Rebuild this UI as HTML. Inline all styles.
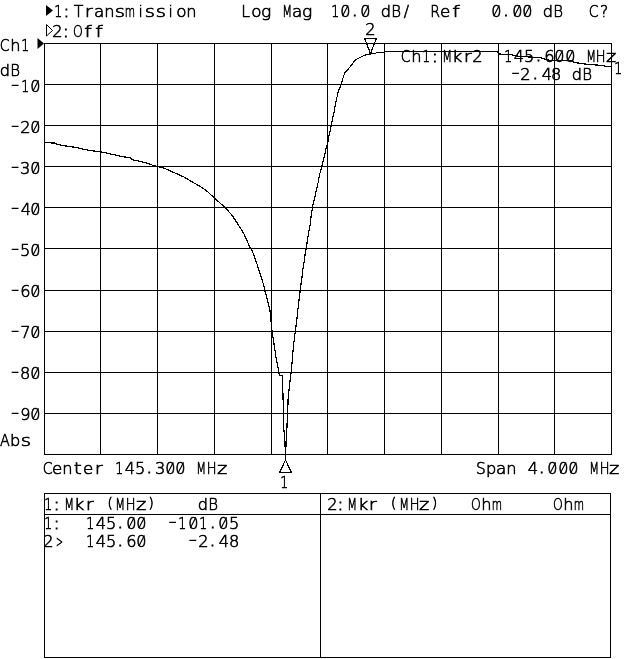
<!DOCTYPE html>
<html><head><meta charset="utf-8"><title>Transmission</title>
<style>
html,body{margin:0;padding:0;background:#fff;width:640px;height:659px;overflow:hidden}
svg{display:block;will-change:transform}
text{white-space:pre}
</style></head>
<body>
<svg width="640" height="659" viewBox="0 0 640 659">
<rect width="640" height="659" fill="#fff"/>
<g fill="#000" shape-rendering="crispEdges">
<rect x="44" y="43" width="1" height="412"/>
<rect x="100" y="43" width="1" height="412"/>
<rect x="157" y="43" width="1" height="412"/>
<rect x="214" y="43" width="1" height="412"/>
<rect x="271" y="43" width="1" height="412"/>
<rect x="327" y="43" width="1" height="412"/>
<rect x="384" y="43" width="1" height="412"/>
<rect x="441" y="43" width="1" height="412"/>
<rect x="498" y="43" width="1" height="412"/>
<rect x="554" y="43" width="1" height="412"/>
<rect x="611" y="43" width="1" height="412"/>
<rect x="44" y="43" width="568" height="1"/>
<rect x="44" y="84" width="568" height="1"/>
<rect x="44" y="125" width="568" height="1"/>
<rect x="44" y="166" width="568" height="1"/>
<rect x="44" y="207" width="568" height="1"/>
<rect x="44" y="248" width="568" height="1"/>
<rect x="44" y="290" width="568" height="1"/>
<rect x="44" y="331" width="568" height="1"/>
<rect x="44" y="372" width="568" height="1"/>
<rect x="44" y="413" width="568" height="1"/>
<rect x="44" y="454" width="568" height="1"/>
<rect x="44" y="493" width="567" height="1"/>
<rect x="44" y="514" width="567" height="1"/>
<rect x="44" y="657" width="567" height="1"/>
<rect x="44" y="493" width="1" height="165"/>
<rect x="610" y="493" width="1" height="165"/>
<rect x="320" y="493" width="1" height="165"/>
</g>
<polyline points="44.00,142.60 55.00,143.10 58.00,144.60 65.00,145.90 75.00,147.30 85.00,149.60 92.00,150.80 100.00,151.60 106.00,153.00 115.00,155.00 120.00,156.20 130.00,157.80 133.00,159.80 145.00,162.50 152.00,165.00 157.00,166.30 165.00,168.50 175.00,173.00 185.00,177.50 192.00,181.90 200.00,186.20 206.00,190.30 214.00,197.60 220.00,203.00 226.00,208.50 232.00,215.20 238.00,224.30 244.00,234.00 250.00,247.40 251.10,248.30 254.10,255.80 257.10,264.30 260.20,274.00 263.20,283.70 265.00,291.00 267.50,300.70 269.90,310.40 271.50,325.80 272.10,331.80 274.00,344.00 275.80,356.00 278.20,368.30 279.20,375.00 282.50,375.60 282.90,392.00 283.40,410.00 283.90,430.00 284.80,438.00 285.20,450.00 285.50,458.50 285.80,450.00 286.20,440.00 287.00,426.00 287.70,410.00 288.30,395.00 289.40,387.30 290.10,380.00 291.00,373.00 292.20,361.00 293.40,346.40 294.90,334.50 295.30,331.40 295.90,326.60 297.00,318.10 297.90,309.60 298.90,301.10 299.55,295.60 300.20,290.20 300.90,284.80 302.00,276.90 302.90,269.00 304.10,262.30 305.00,255.00 306.20,248.40 307.00,242.90 307.90,237.50 309.00,230.20 310.20,224.10 311.10,216.20 311.80,211.40 312.75,206.00 313.80,201.10 314.90,196.90 315.80,192.00 317.00,187.10 318.20,182.30 319.30,175.60 319.70,174.20 320.80,170.20 321.80,166.00 322.75,162.30 323.80,158.10 324.90,153.80 325.90,149.00 327.00,145.30 328.20,140.50 328.80,135.60 329.30,135.20 330.20,130.40 331.10,125.50 332.00,121.90 332.90,117.00 334.10,112.10 335.00,106.70 336.25,100.60 336.60,98.75 338.10,92.50 339.40,88.75 341.00,84.70 342.20,80.60 343.75,75.60 345.00,72.50 347.50,70.00 350.00,66.90 352.50,63.75 355.00,60.30 356.25,59.40 360.00,57.50 363.75,55.60 367.50,54.40 371.25,53.75 375.00,53.50 376.90,52.50 383.75,52.25 386.25,51.50 388.00,51.30 497.50,51.30 499.00,54.00 510.00,54.50 515.00,55.50 520.00,56.50 530.00,57.00 540.00,57.50 547.00,60.00 556.00,60.50 572.00,60.80 574.00,62.50 585.00,64.00 600.00,65.30 606.00,66.30 611.00,66.50" fill="none" stroke="#000" stroke-width="1.2" stroke-linejoin="round" shape-rendering="crispEdges"/>
<polygon points="46,5 53,10.5 46,16" fill="#000"/>
<polygon points="46.5,24.5 52.5,30.5 46.5,36" fill="none" stroke="#000" stroke-width="1"/>
<polygon points="37.5,38 44,43.5 37.5,49" fill="#000"/>
<polygon points="285.5,460 279.5,472.5 291.5,472.5" fill="none" stroke="#000" stroke-width="1.2" shape-rendering="crispEdges"/>
<polygon points="364.5,38.2 376.5,38.2 370.5,53.5" fill="none" stroke="#000" stroke-width="1.2" shape-rendering="crispEdges"/>
<g font-family='"DejaVu Sans", "Liberation Sans", sans-serif' font-weight="200" fill="#000" stroke="#000" stroke-width="0.6">
<text y="17" font-size="15.6"><tspan x="54.34" y="17" textLength="8.0" lengthAdjust="spacingAndGlyphs">1</tspan><tspan x="63.64" y="17" stroke-width="1.1">:</tspan><tspan x="73.64" y="17">T</tspan><tspan x="84.71" y="17" textLength="8.0" lengthAdjust="spacingAndGlyphs">r</tspan><tspan x="93.95" y="17" textLength="10.3" lengthAdjust="spacingAndGlyphs">a</tspan><tspan x="104.17" y="17" textLength="10.3" lengthAdjust="spacingAndGlyphs">n</tspan><tspan x="114.89" y="17" textLength="10.3" lengthAdjust="spacingAndGlyphs">s</tspan><tspan x="124.77" y="17" textLength="10.3" lengthAdjust="spacingAndGlyphs">m</tspan><tspan x="138.45" y="17">i</tspan><tspan x="144.89" y="17" textLength="10.3" lengthAdjust="spacingAndGlyphs">s</tspan><tspan x="155.89" y="17" textLength="10.3" lengthAdjust="spacingAndGlyphs">s</tspan><tspan x="168.45" y="17">i</tspan><tspan x="176.31" y="17" textLength="10.3" lengthAdjust="spacingAndGlyphs">o</tspan><tspan x="186.17" y="17" textLength="10.3" lengthAdjust="spacingAndGlyphs">n</tspan></text>
<text y="17" font-size="15.6"><tspan x="241.32" y="17">L</tspan><tspan x="251.31" y="17" textLength="10.3" lengthAdjust="spacingAndGlyphs">o</tspan><tspan x="261.12" y="17" textLength="10.3" lengthAdjust="spacingAndGlyphs">g</tspan> <tspan x="282.20" y="17" textLength="9.8" lengthAdjust="spacingAndGlyphs">M</tspan><tspan x="291.95" y="17" textLength="10.3" lengthAdjust="spacingAndGlyphs">a</tspan><tspan x="302.12" y="17" textLength="10.3" lengthAdjust="spacingAndGlyphs">g</tspan></text>
<text y="17" font-size="15.6"><tspan x="331.34" y="17" textLength="8.0" lengthAdjust="spacingAndGlyphs">1</tspan><tspan x="340.35" y="17" textLength="10.3" lengthAdjust="spacingAndGlyphs">0</tspan><tspan x="352.26" y="16" stroke-width="1.1">.</tspan><tspan x="360.35" y="17" textLength="10.3" lengthAdjust="spacingAndGlyphs">0</tspan> <tspan x="380.73" y="17" textLength="10.3" lengthAdjust="spacingAndGlyphs">d</tspan><tspan x="391.23" y="17" textLength="9.8" lengthAdjust="spacingAndGlyphs">B</tspan><tspan x="403.80" y="17">/</tspan></text>
<text y="17" font-size="15.6"><tspan x="430.24" y="17" textLength="9.8" lengthAdjust="spacingAndGlyphs">R</tspan><tspan x="440.08" y="17" textLength="10.3" lengthAdjust="spacingAndGlyphs">e</tspan><tspan x="452.22" y="17" textLength="7.5" lengthAdjust="spacingAndGlyphs">f</tspan></text>
<text y="17" font-size="15.6"><tspan x="491.35" y="17" textLength="10.3" lengthAdjust="spacingAndGlyphs">0</tspan><tspan x="503.49" y="16" stroke-width="1.1">.</tspan><tspan x="512.35" y="17" textLength="10.3" lengthAdjust="spacingAndGlyphs">0</tspan><tspan x="522.35" y="17" textLength="10.3" lengthAdjust="spacingAndGlyphs">0</tspan> <tspan x="542.73" y="17" textLength="10.3" lengthAdjust="spacingAndGlyphs">d</tspan><tspan x="553.23" y="17" textLength="9.8" lengthAdjust="spacingAndGlyphs">B</tspan></text>
<text y="17" font-size="15.6"><tspan x="588.71" y="17" textLength="9.8" lengthAdjust="spacingAndGlyphs">C</tspan><tspan x="600.07" y="17">?</tspan></text>
<text y="37" font-size="15.6"><tspan x="52.26" y="37" textLength="10.3" lengthAdjust="spacingAndGlyphs">2</tspan><tspan x="63.14" y="37" stroke-width="1.1">:</tspan><tspan x="72.99" y="37" textLength="9.8" lengthAdjust="spacingAndGlyphs">O</tspan><tspan x="84.22" y="37" textLength="7.5" lengthAdjust="spacingAndGlyphs">f</tspan><tspan x="95.22" y="37" textLength="7.5" lengthAdjust="spacingAndGlyphs">f</tspan></text>
<text y="51" font-size="15.6"><tspan x="-0.29" y="51" textLength="9.8" lengthAdjust="spacingAndGlyphs">C</tspan><tspan x="10.15" y="51" textLength="10.3" lengthAdjust="spacingAndGlyphs">h</tspan><tspan x="21.34" y="51" textLength="8.0" lengthAdjust="spacingAndGlyphs">1</tspan></text>
<text y="76" font-size="15.6"><tspan x="-0.27" y="76" textLength="10.3" lengthAdjust="spacingAndGlyphs">d</tspan><tspan x="10.23" y="76" textLength="9.8" lengthAdjust="spacingAndGlyphs">B</tspan></text>
<text y="92" font-size="15.6"><tspan x="11.10" y="90" textLength="8.2" lengthAdjust="spacingAndGlyphs">-</tspan><tspan x="21.34" y="92" textLength="8.0" lengthAdjust="spacingAndGlyphs">1</tspan><tspan x="30.35" y="92" textLength="10.3" lengthAdjust="spacingAndGlyphs">0</tspan></text>
<text y="133" font-size="15.6"><tspan x="11.10" y="131" textLength="8.2" lengthAdjust="spacingAndGlyphs">-</tspan><tspan x="20.25" y="133" textLength="10.3" lengthAdjust="spacingAndGlyphs">2</tspan><tspan x="30.35" y="133" textLength="10.3" lengthAdjust="spacingAndGlyphs">0</tspan></text>
<text y="174" font-size="15.6"><tspan x="11.10" y="172" textLength="8.2" lengthAdjust="spacingAndGlyphs">-</tspan><tspan x="19.95" y="174" textLength="10.3" lengthAdjust="spacingAndGlyphs">3</tspan><tspan x="30.35" y="174" textLength="10.3" lengthAdjust="spacingAndGlyphs">0</tspan></text>
<text y="215" font-size="15.6"><tspan x="11.10" y="213" textLength="8.2" lengthAdjust="spacingAndGlyphs">-</tspan><tspan x="20.66" y="215" textLength="10.3" lengthAdjust="spacingAndGlyphs">4</tspan><tspan x="30.35" y="215" textLength="10.3" lengthAdjust="spacingAndGlyphs">0</tspan></text>
<text y="256" font-size="15.6"><tspan x="11.10" y="254" textLength="8.2" lengthAdjust="spacingAndGlyphs">-</tspan><tspan x="19.91" y="256" textLength="10.3" lengthAdjust="spacingAndGlyphs">5</tspan><tspan x="30.35" y="256" textLength="10.3" lengthAdjust="spacingAndGlyphs">0</tspan></text>
<text y="297" font-size="15.6"><tspan x="11.10" y="295" textLength="8.2" lengthAdjust="spacingAndGlyphs">-</tspan><tspan x="20.17" y="297" textLength="10.3" lengthAdjust="spacingAndGlyphs">6</tspan><tspan x="30.35" y="297" textLength="10.3" lengthAdjust="spacingAndGlyphs">0</tspan></text>
<text y="338" font-size="15.6"><tspan x="11.10" y="336" textLength="8.2" lengthAdjust="spacingAndGlyphs">-</tspan><tspan x="20.32" y="338" textLength="10.3" lengthAdjust="spacingAndGlyphs">7</tspan><tspan x="30.35" y="338" textLength="10.3" lengthAdjust="spacingAndGlyphs">0</tspan></text>
<text y="379" font-size="15.6"><tspan x="11.10" y="377" textLength="8.2" lengthAdjust="spacingAndGlyphs">-</tspan><tspan x="19.98" y="379" textLength="10.3" lengthAdjust="spacingAndGlyphs">8</tspan><tspan x="30.35" y="379" textLength="10.3" lengthAdjust="spacingAndGlyphs">0</tspan></text>
<text y="420" font-size="15.6"><tspan x="11.10" y="418" textLength="8.2" lengthAdjust="spacingAndGlyphs">-</tspan><tspan x="20.32" y="420" textLength="10.3" lengthAdjust="spacingAndGlyphs">9</tspan><tspan x="30.35" y="420" textLength="10.3" lengthAdjust="spacingAndGlyphs">0</tspan></text>
<text y="446" font-size="15.6"><tspan x="-0.11" y="446" textLength="9.8" lengthAdjust="spacingAndGlyphs">A</tspan><tspan x="10.14" y="446" textLength="10.3" lengthAdjust="spacingAndGlyphs">b</tspan><tspan x="20.89" y="446" textLength="10.3" lengthAdjust="spacingAndGlyphs">s</tspan></text>
<text y="474" font-size="15.6"><tspan x="42.71" y="474" textLength="9.8" lengthAdjust="spacingAndGlyphs">C</tspan><tspan x="52.08" y="474" textLength="10.3" lengthAdjust="spacingAndGlyphs">e</tspan><tspan x="62.17" y="474" textLength="10.3" lengthAdjust="spacingAndGlyphs">n</tspan><tspan x="73.70" y="474" textLength="8.0" lengthAdjust="spacingAndGlyphs">t</tspan><tspan x="83.08" y="474" textLength="10.3" lengthAdjust="spacingAndGlyphs">e</tspan><tspan x="94.71" y="474" textLength="8.0" lengthAdjust="spacingAndGlyphs">r</tspan> <tspan x="115.34" y="474" textLength="8.0" lengthAdjust="spacingAndGlyphs">1</tspan><tspan x="124.66" y="474" textLength="10.3" lengthAdjust="spacingAndGlyphs">4</tspan><tspan x="134.91" y="474" textLength="10.3" lengthAdjust="spacingAndGlyphs">5</tspan><tspan x="146.67" y="473" stroke-width="1.1">.</tspan><tspan x="154.95" y="474" textLength="10.3" lengthAdjust="spacingAndGlyphs">3</tspan><tspan x="165.35" y="474" textLength="10.3" lengthAdjust="spacingAndGlyphs">0</tspan><tspan x="175.35" y="474" textLength="10.3" lengthAdjust="spacingAndGlyphs">0</tspan> <tspan x="196.20" y="474" textLength="9.8" lengthAdjust="spacingAndGlyphs">M</tspan><tspan x="206.76" y="474" textLength="9.8" lengthAdjust="spacingAndGlyphs">H</tspan><tspan x="216.98" y="474" textLength="10.3" lengthAdjust="spacingAndGlyphs">z</tspan></text>
<text y="474" font-size="15.6"><tspan x="476.01" y="474" textLength="9.8" lengthAdjust="spacingAndGlyphs">S</tspan><tspan x="486.14" y="474" textLength="10.3" lengthAdjust="spacingAndGlyphs">p</tspan><tspan x="495.95" y="474" textLength="10.3" lengthAdjust="spacingAndGlyphs">a</tspan><tspan x="506.17" y="474" textLength="10.3" lengthAdjust="spacingAndGlyphs">n</tspan> <tspan x="527.66" y="474" textLength="10.3" lengthAdjust="spacingAndGlyphs">4</tspan><tspan x="539.34" y="473" stroke-width="1.1">.</tspan><tspan x="547.35" y="474" textLength="10.3" lengthAdjust="spacingAndGlyphs">0</tspan><tspan x="558.35" y="474" textLength="10.3" lengthAdjust="spacingAndGlyphs">0</tspan><tspan x="568.35" y="474" textLength="10.3" lengthAdjust="spacingAndGlyphs">0</tspan> <tspan x="589.20" y="474" textLength="9.8" lengthAdjust="spacingAndGlyphs">M</tspan><tspan x="599.76" y="474" textLength="9.8" lengthAdjust="spacingAndGlyphs">H</tspan><tspan x="608.98" y="474" textLength="10.3" lengthAdjust="spacingAndGlyphs">z</tspan></text>
<text y="488" font-size="15.6"><tspan x="280.34" y="488" textLength="8.0" lengthAdjust="spacingAndGlyphs">1</tspan></text>
<text y="35" font-size="15.6"><tspan x="365.25" y="35" textLength="10.3" lengthAdjust="spacingAndGlyphs">2</tspan></text>
<text y="62" font-size="15.6"><tspan x="400.71" y="62" textLength="9.8" lengthAdjust="spacingAndGlyphs">C</tspan><tspan x="411.15" y="62" textLength="10.3" lengthAdjust="spacingAndGlyphs">h</tspan><tspan x="422.34" y="62" textLength="8.0" lengthAdjust="spacingAndGlyphs">1</tspan><tspan x="432.18" y="62" stroke-width="1.1">:</tspan><tspan x="442.20" y="62" textLength="9.8" lengthAdjust="spacingAndGlyphs">M</tspan><tspan x="452.06" y="62" textLength="10.3" lengthAdjust="spacingAndGlyphs">k</tspan><tspan x="463.71" y="62" textLength="8.0" lengthAdjust="spacingAndGlyphs">r</tspan><tspan x="472.25" y="62" textLength="10.3" lengthAdjust="spacingAndGlyphs">2</tspan></text>
<text y="62" font-size="15.6"><tspan x="504.34" y="62" textLength="8.0" lengthAdjust="spacingAndGlyphs">1</tspan><tspan x="513.66" y="62" textLength="10.3" lengthAdjust="spacingAndGlyphs">4</tspan><tspan x="523.91" y="62" textLength="10.3" lengthAdjust="spacingAndGlyphs">5</tspan><tspan x="536.03" y="61" stroke-width="1.1">.</tspan><tspan x="544.17" y="62" textLength="10.3" lengthAdjust="spacingAndGlyphs">6</tspan><tspan x="554.35" y="62" textLength="10.3" lengthAdjust="spacingAndGlyphs">0</tspan><tspan x="565.35" y="62" textLength="10.3" lengthAdjust="spacingAndGlyphs">0</tspan> <tspan x="586.20" y="62" textLength="9.8" lengthAdjust="spacingAndGlyphs">M</tspan><tspan x="595.76" y="62" textLength="9.8" lengthAdjust="spacingAndGlyphs">H</tspan><tspan x="605.98" y="62" textLength="10.3" lengthAdjust="spacingAndGlyphs">z</tspan></text>
<text y="80" font-size="15.6"><tspan x="511.40" y="78" textLength="8.2" lengthAdjust="spacingAndGlyphs">-</tspan><tspan x="520.25" y="80" textLength="10.3" lengthAdjust="spacingAndGlyphs">2</tspan><tspan x="532.76" y="79" stroke-width="1.1">.</tspan><tspan x="541.66" y="80" textLength="10.3" lengthAdjust="spacingAndGlyphs">4</tspan><tspan x="550.98" y="80" textLength="10.3" lengthAdjust="spacingAndGlyphs">8</tspan> <tspan x="571.73" y="80" textLength="10.3" lengthAdjust="spacingAndGlyphs">d</tspan><tspan x="582.23" y="80" textLength="9.8" lengthAdjust="spacingAndGlyphs">B</tspan></text>
<text y="74" font-size="15.6"><tspan x="614.34" y="74" textLength="8.0" lengthAdjust="spacingAndGlyphs">1</tspan></text>
<text y="510" font-size="15.6"><tspan x="44.34" y="510" textLength="8.0" lengthAdjust="spacingAndGlyphs">1</tspan><tspan x="54.04" y="510" stroke-width="1.1">:</tspan><tspan x="64.20" y="510" textLength="9.8" lengthAdjust="spacingAndGlyphs">M</tspan><tspan x="74.06" y="510" textLength="10.3" lengthAdjust="spacingAndGlyphs">k</tspan><tspan x="85.71" y="510" textLength="8.0" lengthAdjust="spacingAndGlyphs">r</tspan> <tspan x="107.40" y="508.2" font-size="13.42">(</tspan><tspan x="115.20" y="510" textLength="9.8" lengthAdjust="spacingAndGlyphs">M</tspan><tspan x="125.76" y="510" textLength="9.8" lengthAdjust="spacingAndGlyphs">H</tspan><tspan x="135.98" y="510" textLength="10.3" lengthAdjust="spacingAndGlyphs">z</tspan><tspan x="148.48" y="508.2" font-size="13.42">)</tspan></text>
<text y="510" font-size="15.6"><tspan x="197.73" y="510" textLength="10.3" lengthAdjust="spacingAndGlyphs">d</tspan><tspan x="208.23" y="510" textLength="9.8" lengthAdjust="spacingAndGlyphs">B</tspan></text>
<text y="510" font-size="15.6"><tspan x="327.25" y="510" textLength="10.3" lengthAdjust="spacingAndGlyphs">2</tspan><tspan x="337.64" y="510" stroke-width="1.1">:</tspan><tspan x="347.20" y="510" textLength="9.8" lengthAdjust="spacingAndGlyphs">M</tspan><tspan x="358.06" y="510" textLength="10.3" lengthAdjust="spacingAndGlyphs">k</tspan><tspan x="368.71" y="510" textLength="8.0" lengthAdjust="spacingAndGlyphs">r</tspan> <tspan x="391.00" y="508.2" font-size="13.42">(</tspan><tspan x="399.20" y="510" textLength="9.8" lengthAdjust="spacingAndGlyphs">M</tspan><tspan x="409.76" y="510" textLength="9.8" lengthAdjust="spacingAndGlyphs">H</tspan><tspan x="418.98" y="510" textLength="10.3" lengthAdjust="spacingAndGlyphs">z</tspan><tspan x="432.08" y="508.2" font-size="13.42">)</tspan></text>
<text y="510" font-size="15.6"><tspan x="470.99" y="510" textLength="9.8" lengthAdjust="spacingAndGlyphs">O</tspan><tspan x="481.15" y="510" textLength="10.3" lengthAdjust="spacingAndGlyphs">h</tspan><tspan x="491.77" y="510" textLength="10.3" lengthAdjust="spacingAndGlyphs">m</tspan></text>
<text y="510" font-size="15.6"><tspan x="552.99" y="510" textLength="9.8" lengthAdjust="spacingAndGlyphs">O</tspan><tspan x="563.15" y="510" textLength="10.3" lengthAdjust="spacingAndGlyphs">h</tspan><tspan x="573.77" y="510" textLength="10.3" lengthAdjust="spacingAndGlyphs">m</tspan></text>
<text y="529" font-size="15.6"><tspan x="44.34" y="529" textLength="8.0" lengthAdjust="spacingAndGlyphs">1</tspan><tspan x="54.04" y="529" stroke-width="1.1">:</tspan></text>
<text y="529" font-size="15.6"><tspan x="86.34" y="529" textLength="8.0" lengthAdjust="spacingAndGlyphs">1</tspan><tspan x="95.66" y="529" textLength="10.3" lengthAdjust="spacingAndGlyphs">4</tspan><tspan x="105.91" y="529" textLength="10.3" lengthAdjust="spacingAndGlyphs">5</tspan><tspan x="117.83" y="528" stroke-width="1.1">.</tspan><tspan x="126.35" y="529" textLength="10.3" lengthAdjust="spacingAndGlyphs">0</tspan><tspan x="136.35" y="529" textLength="10.3" lengthAdjust="spacingAndGlyphs">0</tspan></text>
<text y="529" font-size="15.6"><tspan x="168.40" y="527" textLength="8.2" lengthAdjust="spacingAndGlyphs">-</tspan><tspan x="178.34" y="529" textLength="8.0" lengthAdjust="spacingAndGlyphs">1</tspan><tspan x="188.35" y="529" textLength="10.3" lengthAdjust="spacingAndGlyphs">0</tspan><tspan x="199.34" y="529" textLength="8.0" lengthAdjust="spacingAndGlyphs">1</tspan><tspan x="210.30" y="528" stroke-width="1.1">.</tspan><tspan x="218.35" y="529" textLength="10.3" lengthAdjust="spacingAndGlyphs">0</tspan><tspan x="228.91" y="529" textLength="10.3" lengthAdjust="spacingAndGlyphs">5</tspan></text>
<text y="547" font-size="15.6"><tspan x="43.26" y="547" textLength="10.3" lengthAdjust="spacingAndGlyphs">2</tspan><tspan x="56.04" y="547" textLength="7.0" lengthAdjust="spacingAndGlyphs">&gt;</tspan></text>
<text y="547" font-size="15.6"><tspan x="86.34" y="547" textLength="8.0" lengthAdjust="spacingAndGlyphs">1</tspan><tspan x="95.66" y="547" textLength="10.3" lengthAdjust="spacingAndGlyphs">4</tspan><tspan x="105.91" y="547" textLength="10.3" lengthAdjust="spacingAndGlyphs">5</tspan><tspan x="117.83" y="546" stroke-width="1.1">.</tspan><tspan x="126.17" y="547" textLength="10.3" lengthAdjust="spacingAndGlyphs">6</tspan><tspan x="136.35" y="547" textLength="10.3" lengthAdjust="spacingAndGlyphs">0</tspan></text>
<text y="547" font-size="15.6"><tspan x="188.70" y="545" textLength="8.2" lengthAdjust="spacingAndGlyphs">-</tspan><tspan x="198.25" y="547" textLength="10.3" lengthAdjust="spacingAndGlyphs">2</tspan><tspan x="210.06" y="546" stroke-width="1.1">.</tspan><tspan x="218.66" y="547" textLength="10.3" lengthAdjust="spacingAndGlyphs">4</tspan><tspan x="228.98" y="547" textLength="10.3" lengthAdjust="spacingAndGlyphs">8</tspan></text>
</g>
<g fill="none" stroke="#000" stroke-width="1.15" stroke-linecap="round"><line x1="342.67" y1="15.80" x2="347.87" y2="5.80"/><line x1="363.21" y1="15.80" x2="368.41" y2="5.80"/><line x1="493.90" y1="15.80" x2="499.10" y2="5.80"/><line x1="514.44" y1="15.80" x2="519.64" y2="5.80"/><line x1="524.71" y1="15.80" x2="529.91" y2="5.80"/><line x1="33.14" y1="90.80" x2="38.34" y2="80.80"/><line x1="33.14" y1="131.80" x2="38.34" y2="121.80"/><line x1="33.14" y1="172.80" x2="38.34" y2="162.80"/><line x1="33.14" y1="213.80" x2="38.34" y2="203.80"/><line x1="33.14" y1="254.80" x2="38.34" y2="244.80"/><line x1="33.14" y1="295.80" x2="38.34" y2="285.80"/><line x1="33.14" y1="336.80" x2="38.34" y2="326.80"/><line x1="33.14" y1="377.80" x2="38.34" y2="367.80"/><line x1="33.14" y1="418.80" x2="38.34" y2="408.80"/><line x1="167.89" y1="472.80" x2="173.09" y2="462.80"/><line x1="178.16" y1="472.80" x2="183.36" y2="462.80"/><line x1="550.29" y1="472.80" x2="555.49" y2="462.80"/><line x1="560.56" y1="472.80" x2="565.76" y2="462.80"/><line x1="570.83" y1="472.80" x2="576.03" y2="462.80"/><line x1="557.25" y1="60.80" x2="562.45" y2="50.80"/><line x1="567.52" y1="60.80" x2="572.72" y2="50.80"/><line x1="128.78" y1="527.80" x2="133.98" y2="517.80"/><line x1="139.05" y1="527.80" x2="144.25" y2="517.80"/><line x1="190.44" y1="527.80" x2="195.64" y2="517.80"/><line x1="221.25" y1="527.80" x2="226.45" y2="517.80"/><line x1="139.05" y1="545.80" x2="144.25" y2="535.80"/></g>
</svg>
</body></html>
